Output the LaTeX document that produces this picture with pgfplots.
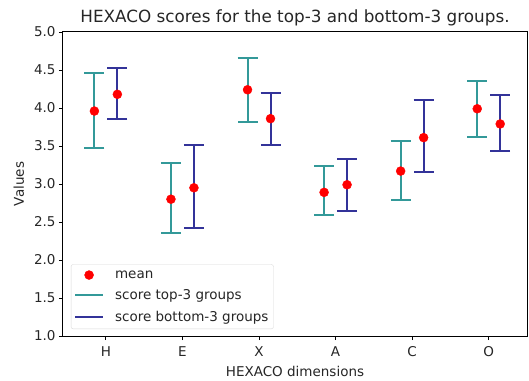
\documentclass[border=0pt]{standalone}
\usepackage{pgfplots}
\pgfplotsset{compat=1.18}
\usepackage{pgfplotstable}
\usepackage{fontspec}
\setmainfont{DejaVu Sans}
\definecolor{topc}{HTML}{339999}
\definecolor{botc}{HTML}{333399}
\definecolor{txt}{HTML}{262626}
\pgfplotsset{
  lineleg/.style={legend image code/.code={\draw[##1] (0bp,0bp) -- (28bp,0bp); \path[draw=none] (28bp,0bp) -- (38bp,0bp);}},
  markleg/.style={legend image code/.code={\path[draw=none] (0bp,0bp) -- (38bp,0bp); \fill[red] (14bp,0bp) circle[radius=4.5bp];}},
}

\pgfplotstableread{
x y ep em
-0.15 3.96 0.50 0.49
0.85 2.80 0.48 0.45
1.85 4.24 0.42 0.42
2.85 2.89 0.35 0.30
3.85 3.17 0.40 0.38
4.85 3.99 0.37 0.37
}\toptab
\pgfplotstableread{
x y ep em
0.15 4.18 0.35 0.32
1.15 2.95 0.56 0.53
2.15 3.86 0.34 0.35
3.15 2.99 0.34 0.35
4.15 3.61 0.49 0.45
5.15 3.79 0.38 0.36
}\bottab

\begin{document}
\begin{tikzpicture}
\useasboundingbox (-63bp,-45bp) rectangle (466bp,336bp);
\begin{axis}[
  scale only axis,
  width=464bp, height=304bp,
  xmin=-0.56, xmax=5.5,
  ymin=1, ymax=5,
  xtick={0,1,2,3,4,5},
  xticklabels={H,E,X,A,C,O},
  ytick={1,1.5,2,2.5,3,3.5,4,4.5,5},
  yticklabel style={/pgf/number format/fixed, /pgf/number format/fixed zerofill, /pgf/number format/precision=1},
  /pgf/number format/assume math mode=true,
  tick align=outside,
  tick pos=left,
  major tick length=4bp,
  tick style={black, line width=0.8bp},
  axis line style={black, line width=1bp},
  tick label style={font=\fontsize{13.5bp}{16bp}\selectfont, text=txt},
  xticklabel style={yshift=-3bp},
  label style={font=\fontsize{13.5bp}{16bp}\selectfont, text=txt},
  xlabel={HEXACO dimensions},
  ylabel={Values},
  xlabel style={yshift=-3bp},
  ylabel style={yshift=3bp},
  title={HEXACO scores for the top-3 and bottom-3 groups.},
  title style={font=\fontsize{16.8bp}{20bp}\selectfont, text=txt, yshift=-3bp},
  legend style={at={(rel axis cs:0.017,0.023)}, anchor=south west,
    draw=black!15, rounded corners=2bp, fill=white,
    font=\fontsize{13.5bp}{16bp}\selectfont, text=txt,
    row sep=6bp, inner xsep=3bp, inner ysep=4bp},
  legend cell align=left,
]
\addlegendimage{markleg}
\addlegendentry{mean}
\addlegendimage{topc, line width=2bp, lineleg}
\addlegendentry{score top-3 groups}
\addlegendimage{botc, line width=2bp, lineleg}
\addlegendentry{score bottom-3 groups}

\addplot[draw=none, mark=none, forget plot,
  error bars/.cd, y dir=both, y explicit,
  error bar style={topc, line width=2bp},
  error mark options={topc, line width=2bp, mark size=10bp, rotate=90}]
  table[x=x, y=y, y error plus=ep, y error minus=em] {\toptab};
\addplot[draw=none, mark=none, forget plot,
  error bars/.cd, y dir=both, y explicit,
  error bar style={botc, line width=2bp},
  error mark options={botc, line width=2bp, mark size=10bp, rotate=90}]
  table[x=x, y=y, y error plus=ep, y error minus=em] {\bottab};
\addplot[only marks, mark=*, mark size=4.5bp, color=red, forget plot] table[x=x, y=y] {\toptab};
\addplot[only marks, mark=*, mark size=4.5bp, color=red, forget plot] table[x=x, y=y] {\bottab};
\end{axis}
\end{tikzpicture}
\end{document}
